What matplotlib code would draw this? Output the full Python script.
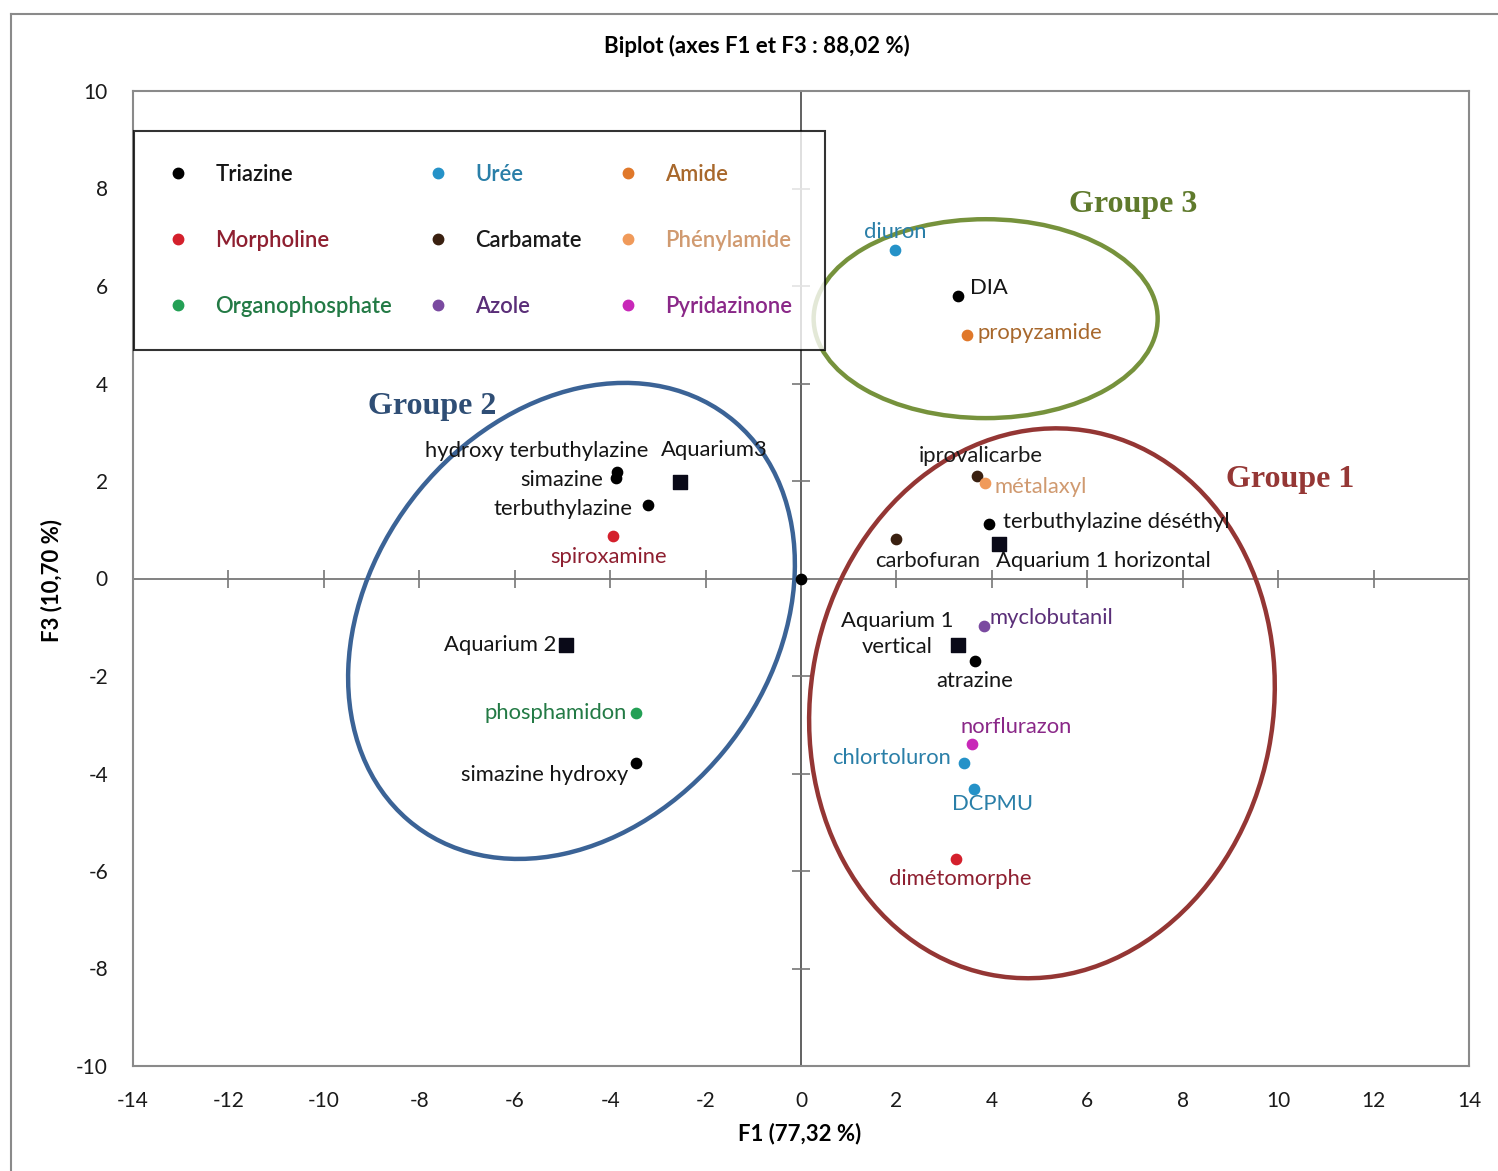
import numpy as np
import matplotlib.pyplot as plt
from matplotlib.patches import Ellipse
from matplotlib.lines import Line2D

# compounds projected on F1 / F3
compounds = ['diuron', 'DIA', 'propyzamide', 'iprovalicarbe', 'métalaxyl',
             'terbuthylazine déséthyl', 'carbofuran', 'myclobutanil', 'atrazine',
             'norflurazon', 'chlortoluron', 'DCPMU', 'dimétomorphe',
             'hydroxy terbuthylazine', 'simazine', 'terbuthylazine', 'spiroxamine',
             'phosphamidon', 'simazine hydroxy', '']
f1 = [1.98, 3.30, 3.47, 3.68, 3.85, 3.93, 2.00, 3.83, 3.64, 3.58, 3.41, 3.62, 3.24,
      -3.85, -3.87, -3.20, -3.93, -3.45, -3.45, 0.0]
f3 = [6.74, 5.80, 5.00, 2.10, 1.96, 1.12, 0.81, -0.97, -1.69, -3.39, -3.78, -4.32, -5.75,
      2.18, 2.06, 1.51, 0.87, -2.76, -3.78, 0.0]
families = ['Urée', 'Triazine', 'Amide', 'Carbamate', 'Phénylamide', 'Triazine', 'Carbamate',
            'Azole', 'Triazine', 'Pyridazinone', 'Urée', 'Urée', 'Morpholine',
            'Triazine', 'Triazine', 'Triazine', 'Morpholine', 'Organophosphate', 'Triazine',
            'Triazine']

# sampling sites (supplementary individuals)
aquariums = ['Aquarium 1 horizontal', 'Aquarium 1\nvertical', 'Aquarium3', 'Aquarium 2']
aq_f1 = [4.14, 3.30, -2.53, -4.92]
aq_f3 = [0.71, -1.36, 1.98, -1.36]

legend_order = ['Triazine', 'Morpholine', 'Organophosphate',
                'Urée', 'Carbamate', 'Azole',
                'Amide', 'Phénylamide', 'Pyridazinone']

# marker colour, text colour
fam_colors = {
    'Triazine': ('#000000', '#151515'),
    'Urée': ('#2592C8', '#2A7FA8'),
    'Amide': ('#E0782A', '#A8682C'),
    'Morpholine': ('#D4202C', '#8E1F30'),
    'Carbamate': ('#3A2010', '#1A1A1A'),
    'Phénylamide': ('#F09A5A', '#D09A70'),
    'Organophosphate': ('#23A055', '#237A45'),
    'Azole': ('#7A4AA0', '#5A2E78'),
    'Pyridazinone': ('#C828B8', '#8A2888'),
}

# label placement: offset in pixels (dx, dy) and horizontal alignment
label_pos = {
    'diuron': (0, 18, 'center'),
    'DIA': (12, 8, 'left'),
    'propyzamide': (11, 2, 'left'),
    'iprovalicarbe': (4, 20, 'center'),
    'métalaxyl': (10, -4, 'left'),
    'terbuthylazine déséthyl': (14, 2, 'left'),
    'carbofuran': (31, -22, 'center'),
    'myclobutanil': (6, 8, 'left'),
    'atrazine': (0, -20, 'center'),
    'norflurazon': (-11, 17, 'left'),
    'chlortoluron': (-13, 5, 'right'),
    'DCPMU': (19, -15, 'center'),
    'dimétomorphe': (5, -20, 'center'),
    'hydroxy terbuthylazine': (31, 21, 'right'),
    'simazine': (-13, -2, 'right'),
    'terbuthylazine': (-16, -4, 'right'),
    'spiroxamine': (-5, -21, 'center'),
    'phosphamidon': (-10, 0, 'right'),
    'simazine hydroxy': (-8, -12, 'right'),
    'Aquarium 1 horizontal': (-3, -17, 'left'),
    'Aquarium 1\nvertical': (-61, 11, 'center'),
    'Aquarium3': (34, 32, 'center'),
    'Aquarium 2': (-10, 0, 'right'),
}

plt.rcParams['font.family'] = ['Lato', 'DejaVu Sans']
plt.rcParams['axes.unicode_minus'] = False

fig = plt.figure(figsize=(14.98, 11.71), dpi=100)
ax = fig.add_axes([133 / 1498, 105 / 1171, 1336 / 1498, 975 / 1171])
ax.set_xlim(-14, 14)
ax.set_ylim(-10, 10)

xt = np.arange(-14, 15, 2)
yt = np.arange(-10, 11, 2)
ax.set_xticks(xt)
ax.set_yticks(yt)
ax.tick_params(length=0, labelsize=15, colors='#1a1a1a')
ax.tick_params(axis='x', pad=18)
ax.tick_params(axis='y', pad=18)
for s in ax.spines.values():
    s.set_color('#8a8a8a')
    s.set_linewidth(1.5)

# axes through the origin with crossing tick marks
ax.axhline(0, color='#777777', lw=1.3, zorder=1)
ax.axvline(0, color='#555555', lw=1.3, zorder=1)
ax.plot(xt, np.zeros_like(xt), ls='none', marker='|', ms=13, mew=1.2, color='#777777', zorder=1)
ax.plot(np.zeros_like(yt), yt, ls='none', marker='_', ms=13, mew=1.2, color='#777777', zorder=1)

# group ellipses
ax.add_patch(Ellipse((3.87, 5.33), 7.21, 4.08, angle=0, fill=False,
                     ec='#76923C', lw=3.2, zorder=2))
ax.add_patch(Ellipse((-4.81, -0.87), 10.66, 8.33, angle=50, fill=False,
                     ec='#3B6396', lw=3.2, zorder=2))
ax.add_patch(Ellipse((5.05, -2.56), 11.34, 9.69, angle=78.6, fill=False,
                     ec='#943634', lw=3.2, zorder=2))
ax.text(6.97, 7.68, 'Groupe 3', family='Liberation Serif', weight='bold', fontsize=23,
        color='#5F7A2C', ha='center', va='center')
ax.text(-7.73, 3.52, 'Groupe 2', family='Liberation Serif', weight='bold', fontsize=23,
        color='#2F4E75', ha='center', va='center')
ax.text(10.25, 2.04, 'Groupe 1', family='Liberation Serif', weight='bold', fontsize=23,
        color='#953735', ha='center', va='center')

# compounds
for name, x, y, fam in zip(compounds, f1, f3, families):
    mc, tc = fam_colors[fam]
    ax.scatter(x, y, s=55, color=mc, zorder=4)
    if name:
        dx, dy, ha = label_pos[name]
        ax.annotate(name, (x, y), xytext=(dx, dy), textcoords='offset pixels',
                    ha=ha, va='center', fontsize=15.8, color=tc, zorder=5)

# aquariums
ax.scatter(aq_f1, aq_f3, s=110, marker='s', color='#0A0A18', zorder=4)
for name, x, y in zip(aquariums, aq_f1, aq_f3):
    dx, dy, ha = label_pos[name]
    ax.annotate(name, (x, y), xytext=(dx, dy), textcoords='offset pixels',
                ha=ha, va='center', fontsize=15.8, color='#151515', zorder=5,
                linespacing=1.35)

# legend
handles = [Line2D([], [], ls='none', marker='o', ms=7.5, color=fam_colors[f][0]) for f in legend_order]
leg = ax.legend(handles, legend_order, ncol=3, loc='upper left',
                bbox_to_anchor=(0.0008, 0.959), fontsize=15.8, frameon=True,
                fancybox=False, borderpad=1.5, labelspacing=2.05, columnspacing=1.6,
                handletextpad=1.2, handlelength=1.0, borderaxespad=0)
leg.get_frame().set_edgecolor('black')
leg.get_frame().set_linewidth(1.5)
for t, f in zip(leg.get_texts(), legend_order):
    t.set_color(fam_colors[f][1])
    t.set_fontweight('semibold')

fig.text(757 / 1498, 1 - 46 / 1171, 'Biplot (axes F1 et F3 : 88,02 %)', ha='center',
         va='center', fontsize=16, weight='bold')
fig.text(800 / 1498, 1 - 1134 / 1171, 'F1 (77,32 %)', ha='center', va='center',
         fontsize=16, weight='bold')
fig.text(52 / 1498, 1 - 580 / 1171, 'F3 (10,70 %)', ha='center', va='center',
         fontsize=16, weight='bold', rotation=90)

# outer frame of the chart
fig.add_artist(Line2D([10.5 / 1498, 10.5 / 1498], [0, 1 - 14 / 1171], color='#8a8a8a', lw=1.5))
fig.add_artist(Line2D([10.5 / 1498, 1], [1 - 14 / 1171, 1 - 14 / 1171], color='#8a8a8a', lw=1.5))

fig.savefig('out.png', dpi=100)
